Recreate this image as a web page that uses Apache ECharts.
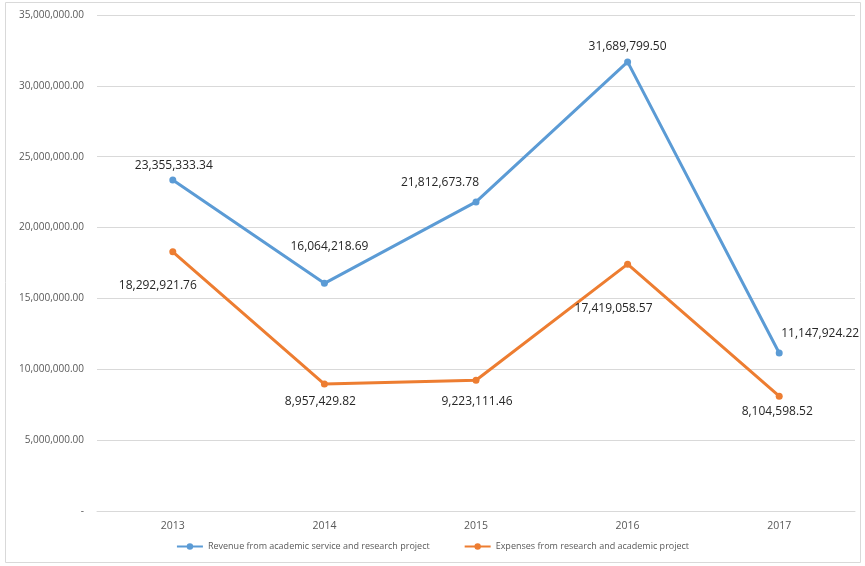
<!DOCTYPE html>
<html><head><meta charset="utf-8">
<script src="https://cdn.jsdelivr.net/npm/echarts@6/dist/echarts.min.js"></script>
<style>html,body{margin:0;padding:0;background:#fff}#c{width:865px;height:566px}</style>
</head><body><div id="c"></div>
<script>
const years = ['2013', '2014', '2015', '2016', '2017'];
const revenue = [23355333.34, 16064218.69, 21812673.78, 31689799.50, 11147924.22];
const expenses = [18292921.76, 8957429.82, 9223111.46, 17419058.57, 8104598.52];
const revenueName = 'Revenue from academic service and research project';
const expensesName = 'Expenses from research and academic project';
const yTicks = { min: 0, max: 35000000, interval: 5000000 };

const revOffsets = [[1, -14], [5, -37], [-36, -19], [0, -15], [41, -19]];
const expOffsets = [[-15, 34], [-4, 18], [1, 21], [-14, 44], [-2, 15]];

function fmt(v) {
  if (v === 0) return '-';
  return v.toLocaleString('en-US', { minimumFractionDigits: 2, maximumFractionDigits: 2 });
}
function build(vals, offs) {
  return vals.map((v, i) => ({ value: v, label: { offset: offs[i] } }));
}
const FONT = 'Open Sans';
const chart = echarts.init(document.getElementById('c'), null, { renderer: 'canvas' });
chart.setOption({
  animation: false,
  textStyle: { fontFamily: FONT },
  graphic: [{ type: 'rect', shape: { x: 5.5, y: 2.5, width: 855, height: 560 }, style: { fill: 'none', stroke: '#d9d9d9', lineWidth: 1 }, silent: true }],
  grid: { left: 97, right: 10, top: 15, bottom: 55 },
  legend: {
    bottom: 10, left: 'center', itemGap: 34, itemWidth: 26, itemHeight: 8,
    textStyle: { fontFamily: FONT, fontSize: 9, color: '#595959' },
    data: [revenueName, expensesName]
  },
  xAxis: {
    type: 'category', data: years, boundaryGap: true,
    axisLine: { lineStyle: { color: '#d9d9d9' } },
    axisTick: { show: false },
    axisLabel: { color: '#595959', fontSize: 10.5, fontFamily: FONT, margin: 10 }
  },
  yAxis: {
    type: 'value', min: yTicks.min, max: yTicks.max, interval: yTicks.interval,
    axisLine: { show: false }, axisTick: { show: false },
    splitLine: { lineStyle: { color: '#d9d9d9' } },
    axisLabel: { color: '#595959', fontSize: 10, fontFamily: FONT, margin: 13, formatter: fmt }
  },
  series: [
    {
      name: revenueName, type: 'line', data: build(revenue, revOffsets),
      symbol: 'circle', symbolSize: 7, color: '#5B9BD5',
      lineStyle: { width: 3, color: '#5B9BD5' },
      label: { show: true, position: 'inside', align: 'center', verticalAlign: 'middle', color: '#262626', fontSize: 12, fontFamily: FONT, formatter: p => fmt(p.value) }
    },
    {
      name: expensesName, type: 'line', data: build(expenses, expOffsets),
      symbol: 'circle', symbolSize: 7, color: '#ED7D31',
      lineStyle: { width: 3, color: '#ED7D31' },
      label: { show: true, position: 'inside', align: 'center', verticalAlign: 'middle', color: '#262626', fontSize: 12, fontFamily: FONT, formatter: p => fmt(p.value) }
    }
  ]
});
</script></body></html>
